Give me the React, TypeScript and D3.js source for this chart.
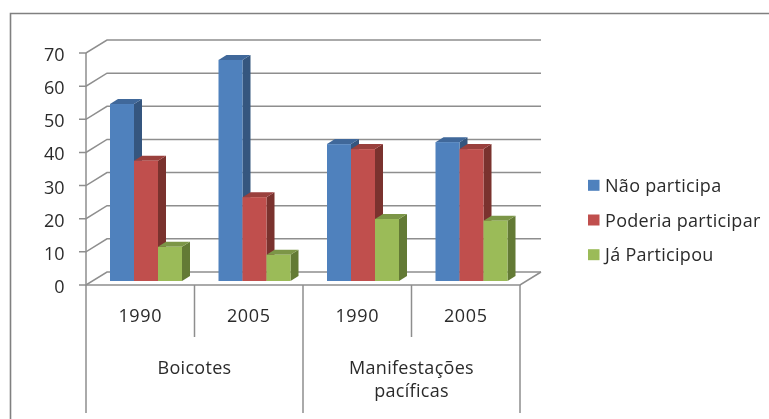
import React from "react";
import * as d3 from "d3";

const years = ["1990", "2005", "1990", "2005"];
const groups = ["Boicotes", "Manifestações pacíficas"];
const seriesNames = ["Não participa", "Poderia participar", "Já Participou"];
const naoParticipa = [53.4, 66.7, 41.3, 41.9];
const poderiaParticipar = [36.3, 25.3, 39.8, 39.8];
const jaParticipou = [10.3, 7.9, 18.7, 18.2];
const seriesValues = [naoParticipa, poderiaParticipar, jaParticipou];
const yTicks = [0, 10, 20, 30, 40, 50, 60, 70];

const front = ["#4f81bd", "#c0504d", "#9bbb59"];
const topFace = ["#3f679a", "#9a3f3d", "#7c9647"];
const sideFace = ["#34567f", "#7a302e", "#637a34"];

const width = 769;
const height = 419;
const axisX = 86;
const plotRight = 520;
const depthX = 21;
const depthY = 13;
const barDx = 8;
const barDy = 5;
const gridColor = "#8e8e8e";
const textColor = "#2b2b2b";
const font = "'Open Sans', sans-serif";

export default function App() {
  const y = d3.scaleLinear([0, 70], [285, 53]);
  const x = d3.scaleBand(d3.range(years.length).map(String), [axisX, plotRight]);
  const barBase = y(0) - 4;
  const barHeight = (v: number) => y(0) - y(v);

  return (
    <svg
      width={width}
      height={height}
      style={{ position: "absolute", left: 0, top: 0, background: "#fff" }}
      fontFamily={font}
    >
      <defs>
        <filter id="soft" x="-5%" y="-5%" width="110%" height="110%">
          <feGaussianBlur stdDeviation="0.35" />
        </filter>
      </defs>
      <g filter="url(#soft)">
        <path d={`M10.5,${height}V13.5H${width}`} fill="none" stroke="#808080" strokeWidth={1.6} />

        {/* walls and floor */}
        <g stroke={gridColor} strokeWidth={1.5} fill="none">
          {yTicks.map((t) => (
            <path
              key={t}
              d={`M${axisX - 7},${y(t)}H${axisX}L${axisX + depthX},${y(t) - depthY}H${plotRight + depthX}`}
            />
          ))}
          <path d={`M${axisX},${y(70)}V${y(0)}H${plotRight}L${plotRight + depthX},${y(0) - depthY}`} />
        </g>

        {/* bars */}
        {years.map((_, i) => {
          const start = x(String(i))!;
          const inner = d3.scaleBand(seriesNames, [start + 24, start + 96]);
          return (
            <g key={i}>
              {seriesNames.map((name, s) => {
                const bx = inner(name)!;
                const w = inner.bandwidth();
                const h = barHeight(seriesValues[s][i]);
                const top = barBase - h;
                return (
                  <g key={name}>
                    <path
                      d={`M${bx + w},${top}l${barDx},${-barDy}V${barBase - barDy}l${-barDx},${barDy}Z`}
                      fill={sideFace[s]}
                    />
                    <path
                      d={`M${bx},${top}l${barDx},${-barDy}h${w}l${-barDx},${barDy}Z`}
                      fill={topFace[s]}
                    />
                    <rect x={bx} y={top} width={w} height={h} fill={front[s]} />
                  </g>
                );
              })}
            </g>
          );
        })}

        {/* category separators */}
        <g stroke={gridColor} strokeWidth={1.5}>
          {d3.range(years.length + 1).map((i) => (
            <line
              key={i}
              x1={axisX + i * x.step()}
              x2={axisX + i * x.step()}
              y1={y(0)}
              y2={i % 2 === 0 ? 413 : 337}
            />
          ))}
        </g>

        <g fill={textColor} fontSize={18}>
          {yTicks.map((t) => (
            <text key={t} x={64.5} y={y(t) + 1} textAnchor="end" dominantBaseline="central">
              {t}
            </text>
          ))}
          {years.map((yr, i) => (
            <text
              key={i}
              x={x(String(i))! + x.bandwidth() / 2}
              y={315}
              textAnchor="middle"
              dominantBaseline="central"
              letterSpacing={0.6}
            >
              {yr}
            </text>
          ))}
          <text x={axisX + x.step()} y={367} textAnchor="middle" dominantBaseline="central" letterSpacing={0.3}>
            {groups[0]}
          </text>
          <text x={axisX + 3 * x.step()} textAnchor="middle" letterSpacing={0.3}>
            {groups[1].split(" ").map((part, i) => (
              <tspan key={part} x={axisX + 3 * x.step()} y={367 + i * 23} dominantBaseline="central">
                {part}
              </tspan>
            ))}
          </text>
        </g>

        {/* legend */}
        <g fontSize={18} fill={textColor} letterSpacing={0.3}>
          {seriesNames.map((name, s) => {
            const ly = 185.3 + s * 34.7;
            return (
              <g key={name}>
                <rect x={588} y={ly - 5.5} width={11.5} height={11} fill={front[s]} />
                <text x={605} y={ly - 0.5} dominantBaseline="central">
                  {name}
                </text>
              </g>
            );
          })}
        </g>
      </g>
    </svg>
  );
}
